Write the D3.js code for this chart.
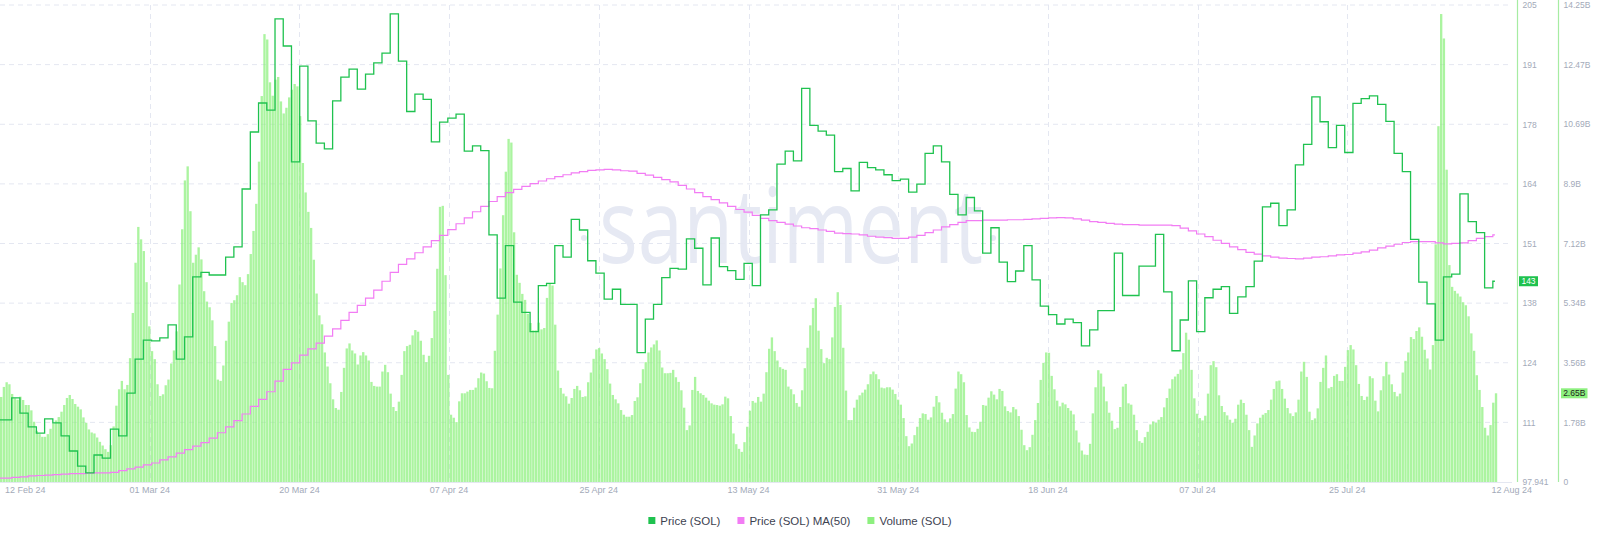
<!DOCTYPE html>
<html><head><meta charset="utf-8">
<script src="https://cdn.jsdelivr.net/npm/d3@7"></script>
<style>
html,body{margin:0;padding:0;background:#fff;}
svg{display:block;font-family:"Liberation Sans",Arial,sans-serif;}
</style></head><body>
<svg id="chart" width="1600" height="541"></svg>
<script>
// ---------- DATA ----------
const dateLabels = ["12 Feb 24","01 Mar 24","20 Mar 24","07 Apr 24","25 Apr 24","13 May 24","31 May 24","18 Jun 24","07 Jul 24","25 Jul 24","12 Aug 24"];
const priceTickValues = [97.941,111.32,124.71,138.09,151.47,164.85,178.23,191.62,205];
const priceTickLabels = ["97.941","111","124","138","151","164","178","191","205"];
const volumeTickValues = [0,1.78125,3.5625,5.34375,7.125,8.90625,10.6875,12.46875,14.25];
const volumeTickLabels = ["0","1.78B","3.56B","5.34B","7.12B","8.9B","10.69B","12.47B","14.25B"];
const legendLabels = ["Price (SOL)","Price (SOL) MA(50)","Volume (SOL)"];
const lastPriceLabel = "143";
const lastVolumeLabel = "2.65B";
const lastPrice = 143;
const lastVolume = 2.65;

// daily price (SOL, USD)
const price = [
111.9,116.8,113.4,110.3,108.9,112.1,111.2,108.3,104.9,101.5,100.0,104.0,103.3,109.8,108.3,117.9,125.5,129.8,129.6,130.3,
133.2,125.5,130.5,144.0,145.0,144.4,144.4,148.4,150.7,163.7,176.5,183.0,181.4,201.9,195.8,169.8,191.3,179.0,174.0,172.7,
183.5,188.8,190.6,186.1,189.5,192.0,194.2,203.0,192.4,181.1,185.0,183.8,174.3,178.7,179.6,180.5,172.2,173.4,172.3,153.4,
139.2,151.0,138.3,136.0,131.7,142.0,142.5,151.0,148.4,156.9,154.5,147.6,144.8,139.0,141.2,137.8,137.8,127.0,134.5,137.8,
143.8,145.9,145.7,152.5,150.4,142.2,152.7,146.3,145.4,143.4,147.0,142.0,157.9,159.0,169.3,172.2,170.0,186.3,178.0,176.7,
175.8,167.6,168.3,163.3,169.7,168.5,168.0,166.9,165.6,165.9,163.0,164.8,171.7,173.4,169.8,162.5,157.9,161.8,158.8,149.3,
155.0,147.3,142.9,145.3,151.0,143.3,137.4,135.5,133.4,134.5,133.7,128.5,132.1,136.4,136.4,149.3,139.8,139.8,146.4,146.4,
153.5,140.6,127.4,134.3,143.1,131.7,139.3,141.2,141.8,135.8,139.5,141.8,147.5,159.7,160.5,155.5,159.0,169.1,173.7,184.4,
178.8,173.0,178.0,171.9,182.9,184.0,184.6,182.7,178.9,171.7,167.6,152.4,142.8,137.9,129.8,144.0,144.6,162.6,156.4,153.9,
141.5,143.0];

// daily 50-day moving average of price
const priceMA50 = [
98.8,99.0,99.1,99.3,99.4,99.5,99.6,99.7,99.8,99.8,99.9,100.0,100.0,100.1,100.5,100.9,101.3,101.8,102.2,102.9,
103.6,104.4,105.2,106.0,106.8,107.8,109.0,110.3,111.7,113.2,114.9,116.5,118.2,120.6,123.2,124.7,126.4,127.8,129.1,130.7,
132.3,134.2,136.0,137.6,139.2,141.0,143.0,145.0,146.8,148.0,149.4,150.7,152.1,153.3,154.6,155.9,157.2,158.6,159.8,160.9,
162.0,162.9,163.6,164.3,164.9,165.5,166.0,166.5,166.9,167.3,167.6,167.9,168.0,168.1,168.0,167.8,167.7,167.2,166.8,166.3,
165.8,165.3,164.5,163.7,162.9,162.0,161.3,160.6,159.8,159.1,158.5,157.8,157.1,156.6,156.2,155.8,155.4,155.0,154.8,154.5,
154.2,153.8,153.7,153.6,153.4,153.1,152.9,152.8,152.6,152.6,152.9,153.3,153.9,154.5,155.2,155.7,156.2,156.6,156.6,156.7,
156.7,156.7,156.8,156.8,156.9,157.0,157.1,157.2,157.3,157.2,157.0,156.7,156.4,156.2,156.0,155.8,155.7,155.7,155.6,155.6,
155.6,155.6,155.5,154.9,154.3,153.6,153.0,152.2,151.5,150.7,150.1,149.5,149.1,148.7,148.4,148.2,148.1,148.0,148.2,148.4,
148.5,148.7,148.9,149.0,149.3,149.6,150.0,150.5,150.9,151.3,151.7,151.9,151.9,151.9,151.6,151.4,151.5,151.6,152.1,152.6,
153.0,153.4];

// trading volume (billions USD), 8-hour bars
const volume = [
2.54,2.84,2.98,2.92,2.63,2.50,2.46,2.55,2.45,2.30,2.30,2.14,1.80,1.53,1.43,1.35,1.35,1.43,1.59,1.75,
1.84,1.94,2.10,2.30,2.51,2.60,2.48,2.33,2.25,2.17,1.93,1.77,1.57,1.48,1.45,1.33,1.20,1.09,0.98,0.90,
1.10,1.66,2.28,2.77,3.02,2.77,2.90,3.70,5.05,6.55,7.62,7.25,6.90,5.97,4.65,3.91,3.67,2.92,2.57,2.62,
2.89,3.06,3.54,3.93,4.50,5.90,7.55,9.01,9.43,8.09,6.55,6.79,7.01,6.65,5.70,5.39,5.22,4.83,4.06,3.06,
3.02,3.48,4.22,4.79,5.35,5.43,5.58,6.12,5.97,5.88,6.21,6.81,7.50,8.31,9.57,11.53,13.38,13.22,11.94,11.54,
12.02,12.10,11.37,11.01,11.18,11.49,11.72,11.89,11.82,10.93,9.53,8.65,8.07,7.59,6.64,5.63,4.98,4.71,3.87,3.45,
2.95,2.47,2.21,2.16,2.69,3.41,3.99,4.14,3.93,3.84,3.51,3.78,3.88,3.78,3.63,2.99,2.87,2.85,2.85,3.30,
3.50,3.28,2.64,2.24,2.12,2.40,3.20,3.91,4.06,4.10,4.38,4.54,4.49,4.22,3.80,3.58,3.77,4.30,5.11,6.37,
8.22,8.25,6.18,3.20,2.01,1.92,1.79,2.41,2.65,2.65,2.70,2.75,2.75,2.82,3.10,3.27,3.24,3.01,2.81,2.80,
3.92,5.00,6.38,7.97,9.27,10.25,10.14,7.46,6.19,5.95,5.62,5.44,5.02,4.75,4.53,4.53,4.76,4.56,4.60,5.50,
5.92,5.87,4.70,3.33,2.81,2.64,2.56,2.34,2.51,2.78,2.87,2.74,2.54,2.56,2.98,3.27,3.68,3.96,4.00,3.84,
3.67,3.37,2.94,2.60,2.47,2.35,2.15,2.01,1.95,1.95,2.00,2.42,2.53,2.95,3.37,3.58,3.87,4.02,4.11,4.23,
3.93,3.42,3.25,3.25,3.26,3.35,3.13,2.99,2.74,2.22,1.55,1.69,2.75,3.14,2.72,2.65,2.60,2.52,2.43,2.35,
2.31,2.30,2.28,2.32,2.55,2.50,1.97,1.45,1.13,0.99,0.90,1.19,1.65,2.13,2.42,2.37,2.54,2.40,2.64,3.28,
3.98,4.32,3.91,3.63,3.43,3.38,3.35,2.85,2.77,2.62,2.36,2.25,2.74,3.40,4.01,4.68,5.20,5.49,4.52,3.97,
3.55,3.71,3.67,4.32,5.23,5.67,5.29,4.01,2.73,1.85,1.85,2.22,2.46,2.59,2.67,2.76,2.92,3.22,3.30,3.22,
3.07,2.82,2.80,2.83,2.83,2.76,2.63,2.46,2.31,1.91,1.37,1.07,1.15,1.40,1.65,1.91,2.05,2.03,1.86,1.93,
2.25,2.57,2.38,2.07,1.87,1.78,1.90,2.03,2.79,3.30,3.22,2.98,2.00,1.63,1.50,1.49,1.59,1.80,2.30,2.28,
2.52,2.71,2.61,2.47,2.78,2.72,2.26,2.12,2.08,2.24,2.17,1.97,1.56,1.10,0.95,1.04,1.41,1.85,2.36,3.05,
3.56,3.87,3.86,3.17,2.77,2.43,2.26,2.37,2.32,2.21,2.13,2.02,1.54,1.18,0.94,0.82,0.81,1.14,2.05,2.83,
3.34,3.24,2.85,2.41,2.07,1.83,1.58,1.62,2.24,2.85,2.93,2.35,2.31,2.01,1.55,1.22,1.17,1.34,1.50,1.72,
1.81,1.77,1.86,1.94,2.23,2.51,2.79,3.07,3.15,3.23,3.36,3.85,4.46,4.25,3.35,2.50,2.04,1.91,1.84,1.98,
2.64,3.49,3.61,3.43,2.59,2.27,2.09,1.99,1.86,1.77,1.89,2.31,2.46,2.36,2.01,1.55,1.05,1.39,1.75,1.92,
2.01,2.06,2.15,2.46,2.78,3.01,3.03,2.78,2.49,2.21,2.05,1.97,2.08,2.46,3.30,3.59,3.14,2.10,1.85,1.90,
2.20,2.99,3.41,3.78,2.80,2.84,3.17,3.22,3.02,3.02,3.44,3.94,4.09,3.96,3.49,2.93,2.57,2.45,2.55,3.16,
3.10,2.43,2.11,2.74,3.16,3.59,3.21,2.92,2.69,2.56,2.64,3.27,3.62,3.87,4.33,4.27,4.51,4.62,4.34,3.95,
3.69,3.36,4.09,7.10,10.63,13.98,13.25,9.33,6.48,5.83,5.71,5.63,5.54,5.37,5.28,4.95,4.44,3.92,3.19,2.75,
2.24,1.62,1.39,1.70,2.37,2.65];

// ---------- LAYOUT ----------
const svg = d3.select("#chart");
const plot = {left: 0, right: 1497.6, top: 5, bottom: 482};
const tStart = -0.4216;               // day offset of left edge
const barsPerDay = 3;
const tEnd = tStart + volume.length / barsPerDay;
const priceEnd = 181.25;

const COL = {
  price: "#1fc24f", ma: "#f27cf4", vol: "#8df07f",
  grid: "#e4e7f1", axisLine: "#a6eca2", tick: "#a3aab9", text: "#3d4250", wm: "#e6e9f3"
};

const x = d3.scaleLinear().domain([tStart, tEnd]).range([plot.left, plot.right]);
const yP = d3.scaleLinear().domain([priceTickValues[0], priceTickValues[priceTickValues.length-1]]).range([plot.bottom, plot.top]);
const yV = d3.scaleLinear().domain([0, volumeTickValues[volumeTickValues.length-1]]).range([plot.bottom, plot.top]);

// watermark
const wm = svg.append("g");
wm.append("text").attr("x", 599).attr("y", 263)
  .attr("font-family", "'Open Sans', sans-serif").attr("font-size", 104)
  .attr("fill", COL.wm).attr("textLength", 384).attr("lengthAdjust", "spacingAndGlyphs")
  .text("santiment");
wm.append("circle").attr("cx", 584).attr("cy", 238).attr("r", 3).attr("fill", COL.wm);
wm.append("circle").attr("cx", 993).attr("cy", 238).attr("r", 3).attr("fill", COL.wm);

// grid
const grid = svg.append("g");
priceTickValues.slice(1).forEach(v => {
  grid.append("line").attr("x1", 0).attr("x2", 1512).attr("y1", yP(v)).attr("y2", yP(v))
    .attr("stroke", COL.grid).attr("stroke-dasharray", "5,4").attr("stroke-width", 1);
});
grid.append("line").attr("x1", 0).attr("x2", 1512).attr("y1", plot.bottom + 0.5).attr("y2", plot.bottom + 0.5)
  .attr("stroke", COL.grid).attr("stroke-width", 1);
const nDates = dateLabels.length;
const datePos = i => plot.left + (1497 - plot.left) * i / (nDates - 1);
for (let i = 1; i < nDates - 1; i++) {
  grid.append("line").attr("x1", Math.round(datePos(i)) + 0.5).attr("x2", Math.round(datePos(i)) + 0.5)
    .attr("y1", plot.top).attr("y2", plot.bottom)
    .attr("stroke", COL.grid).attr("stroke-dasharray", "5,4");
}

// volume bars
const bw = x(tStart + 1 / barsPerDay) - x(tStart);
svg.append("g").selectAll("rect").data(volume).join("rect")
  .attr("x", (d, i) => x(tStart + i / barsPerDay))
  .attr("width", bw - 0.4)
  .attr("y", d => yV(d))
  .attr("height", d => yV(0) - yV(d))
  .attr("fill", COL.vol).attr("fill-opacity", 0.74);

// lines
function stepPoints(arr) {
  const pts = arr.map((v, i) => [i === 0 ? tStart : i, v]);
  pts.push([priceEnd, arr[arr.length - 1]]);
  return pts;
}
const line = d3.line().x(d => x(d[0])).y(d => yP(d[1])).curve(d3.curveStepAfter);
svg.append("path").attr("d", line(stepPoints(priceMA50)))
  .attr("fill", "none").attr("stroke", COL.ma).attr("stroke-width", 1.2);
svg.append("path").attr("d", line(stepPoints(price)))
  .attr("fill", "none").attr("stroke", COL.price).attr("stroke-width", 1.3).attr("stroke-linejoin", "miter");

// axes
const axP = d3.axisRight(yP).tickValues(priceTickValues).tickFormat((d, i) => priceTickLabels[i])
  .tickSize(0).tickPadding(5);
const gP = svg.append("g").attr("transform", "translate(1517.5,0)").call(axP);
const axV = d3.axisRight(yV).tickValues(volumeTickValues).tickFormat((d, i) => volumeTickLabels[i])
  .tickSize(0).tickPadding(5);
const gV = svg.append("g").attr("transform", "translate(1558.5,0)").call(axV);
[gP, gV].forEach(g => {
  g.select(".domain").attr("stroke", COL.axisLine).attr("stroke-width", 1.2).attr("d", "M0,0V" + plot.bottom);
  g.selectAll("text").attr("fill", COL.tick).attr("font-size", 8.5)
    .attr("font-family", "'Liberation Sans', Arial, sans-serif");
});

// last value badges
const bP = svg.append("g").attr("transform", `translate(1519,${yP(lastPrice)})`);
bP.append("rect").attr("x", 0).attr("y", -5).attr("width", 19).attr("height", 10).attr("fill", COL.price);
bP.append("text").attr("x", 9.5).attr("y", 0).attr("dy", "0.35em").attr("text-anchor", "middle")
  .attr("font-size", 8.5).attr("fill", "#fff").text(lastPriceLabel);
const bV = svg.append("g").attr("transform", `translate(1561,${yV(lastVolume)})`);
bV.append("rect").attr("x", 0).attr("y", -5).attr("width", 26.5).attr("height", 10).attr("fill", COL.vol);
bV.append("text").attr("x", 13.25).attr("y", 0).attr("dy", "0.35em").attr("text-anchor", "middle")
  .attr("font-size", 8.5).attr("fill", "#1d2320").text(lastVolumeLabel);

// date labels
const gD = svg.append("g");
dateLabels.forEach((lab, i) => {
  let xx = datePos(i), anchor = "middle";
  if (i === 0) { xx = 5; anchor = "start"; }
  if (i === nDates - 1) { xx = 1532; anchor = "end"; }
  gD.append("text").attr("x", xx).attr("y", 490).attr("dy", "0.35em").attr("text-anchor", anchor)
    .attr("font-size", 9).attr("fill", COL.tick).text(lab);
});

// legend
const legColors = [COL.price, COL.ma, COL.vol];
const gL = svg.append("g");
let lx = 0;
legendLabels.forEach((lab, i) => {
  const it = gL.append("g").attr("transform", `translate(${lx},0)`);
  it.append("rect").attr("x", 0).attr("y", -3.5).attr("width", 7).attr("height", 7).attr("fill", legColors[i]);
  const t = it.append("text").attr("x", 12).attr("y", 0).attr("dy", "0.35em")
    .attr("font-size", 11.5).attr("fill", COL.text).text(lab);
  lx += 12 + t.node().getComputedTextLength() + 17;
});
const legW = lx - 17;
gL.attr("transform", `translate(${800 - legW / 2},520.5)`);
</script>
</body></html>
